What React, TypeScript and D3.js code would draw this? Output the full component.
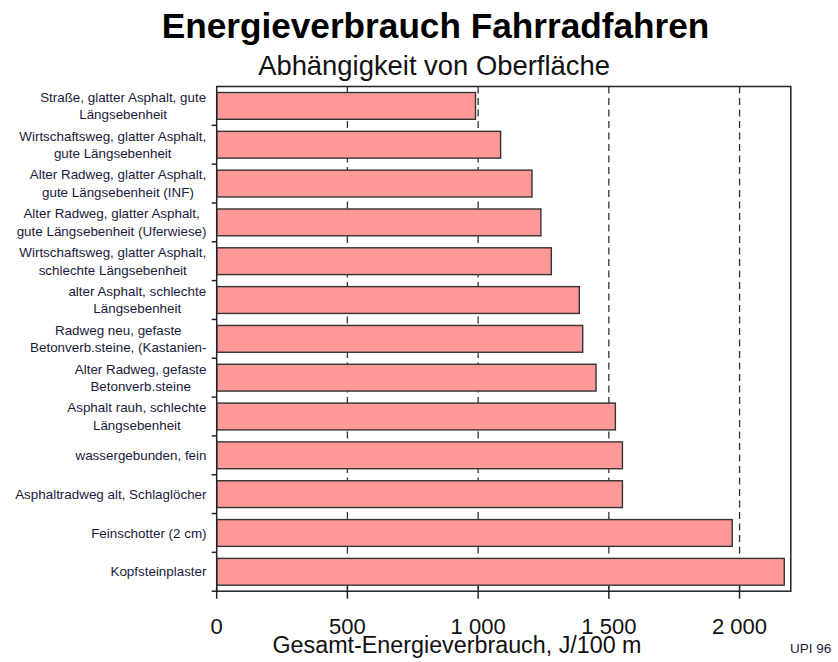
import React, { useMemo } from "react";
import * as d3 from "d3";

const categories: string[] = [
  "Straße, glatter Asphalt, gute\nLängsebenheit",
  "Wirtschaftsweg, glatter Asphalt,\ngute Längsebenheit",
  "Alter Radweg, glatter Asphalt,\ngute Längsebenheit (INF)",
  "Alter Radweg, glatter Asphalt,\ngute Längsebenheit (Uferwiese)",
  "Wirtschaftsweg, glatter Asphalt,\nschlechte Längsebenheit",
  "alter Asphalt, schlechte\nLängsebenheit",
  "Radweg neu, gefaste\nBetonverb.steine, (Kastanien-",
  "Alter Radweg, gefaste\nBetonverb.steine",
  "Asphalt rauh, schlechte\nLängsebenheit",
  "wassergebunden, fein",
  "Asphaltradweg alt, Schlaglöcher",
  "Feinschotter (2 cm)",
  "Kopfsteinplaster",
];

const values: number[] = [990, 1086, 1206, 1240, 1280, 1387, 1400, 1451, 1525, 1552, 1552, 1972, 2171];

const xTicks: number[] = [0, 500, 1000, 1500, 2000];
const xTickLabels: string[] = ["0", "500", "1 000", "1 500", "2 000"];

const title = "Energieverbrauch Fahrradfahren";
const subtitle = "Abhängigkeit von Oberfläche";
const xTitle = "Gesamt-Energieverbrauch, J/100 m";
const sourceNote = "UPI 96";

const FONT = "'Liberation Sans', Arial, Helvetica, sans-serif";

export default function App() {
  const W = 838;
  const H = 662;
  const left = 216.7;
  const right = 790.8;
  const top = 86.5;
  const bottom = 591.2;

  const x = d3.scaleLinear().domain([0, 2196]).range([left, right]);
  const y = d3
    .scaleBand<number>()
    .domain(d3.range(categories.length))
    .range([top, bottom])
    .paddingInner(0.31)
    .paddingOuter(0.155);
  const step = y.step();
  const start = top;

  const labelFontSize = 13.4;
  const measure = useMemo(() => {
    const c = document.createElement("canvas").getContext("2d")!;
    c.font = `${labelFontSize}px 'Liberation Sans'`;
    return (s: string) => c.measureText(s).width;
  }, []);

  const labelRight = 206.5;
  const lineGap = 17.5;

  return (
    <svg
      width={W}
      height={H}
      style={{ position: "absolute", left: 0, top: 0, background: "#fff" }}
      fontFamily={FONT}
    >
      <text x={435.5} y={38} textAnchor="middle" fontSize={35.2} fontWeight="bold" fill="#000">
        {title}
      </text>
      <text x={434} y={75} textAnchor="middle" fontSize={27.4} fill="#111">
        {subtitle}
      </text>

      {/* gridlines */}
      {xTicks.slice(1).map((t) => (
        <line
          key={"g" + t}
          x1={x(t)}
          x2={x(t)}
          y1={top}
          y2={bottom}
          stroke="#333"
          strokeWidth={1.3}
          strokeDasharray="7,4.5"
        />
      ))}

      {/* bars */}
      {values.map((v, i) => (
        <rect
          key={"b" + i}
          x={x(0)}
          y={y(i)!}
          width={x(v) - x(0)}
          height={y.bandwidth()}
          fill="#ff9999"
          stroke="#333"
          strokeWidth={1.4}
        />
      ))}

      {/* frame */}
      <rect x={left} y={top} width={right - left} height={bottom - top} fill="none" stroke="#222" strokeWidth={1.5} />

      {/* y ticks at category boundaries */}
      {categories.map((_, i) => {
        const yy = start + step * (i + 1);
        return <line key={"yt" + i} x1={left - 5} x2={left} y1={yy} y2={yy} stroke="#222" strokeWidth={1.5} />;
      })}

      {/* x ticks */}
      {xTicks.map((t) => (
        <line key={"xt" + t} x1={x(t)} x2={x(t)} y1={bottom - 5} y2={bottom + 7.5} stroke="#222" strokeWidth={1.5} />
      ))}
      {xTicks.map((t, i) => (
        <text key={"xl" + t} x={x(t)} y={633.5} textAnchor="middle" fontSize={22} fill="#111" style={{ whiteSpace: "pre" }}>
          {xTickLabels[i]}
        </text>
      ))}

      <text x={457} y={653} textAnchor="middle" fontSize={23.3} fill="#111">
        {xTitle}
      </text>
      <text x={790} y={653} fontSize={13.5} fill="#1a1a3a">
        {sourceNote}
      </text>

      {/* y labels */}
      {categories.map((c, i) => {
        const lines = c.split("\n");
        const cy = y(i)! + y.bandwidth() / 2;
        if (lines.length === 1) {
          return (
            <text key={"yl" + i} x={labelRight} y={cy} dy="0.35em" textAnchor="end" fontSize={labelFontSize} fill="#1a1a3a">
              {lines[0]}
            </text>
          );
        }
        const maxW = Math.max(...lines.map(measure));
        const cx = labelRight - maxW / 2;
        return (
          <text key={"yl" + i} textAnchor="middle" fontSize={labelFontSize} fill="#1a1a3a">
            {lines.map((ln, j) => (
              <tspan key={j} x={cx} y={cy + (j - (lines.length - 1) / 2) * lineGap} dy="0.35em">
                {ln}
              </tspan>
            ))}
          </text>
        );
      })}
    </svg>
  );
}
